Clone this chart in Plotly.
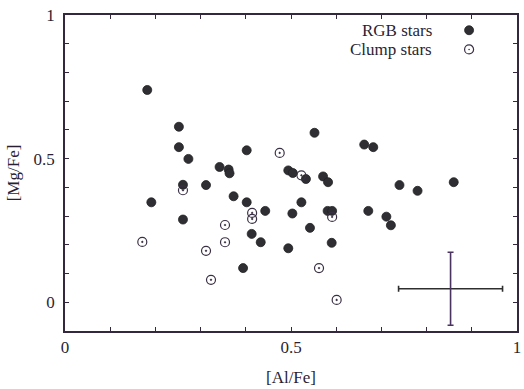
import plotly.graph_objects as go

# RGB stars ([Al/Fe], [Mg/Fe])
rgb_al = [0.182, 0.191, 0.252, 0.252, 0.273, 0.261, 0.261, 0.312, 0.342, 0.362,
          0.364, 0.373, 0.402, 0.402, 0.413, 0.433, 0.443, 0.394, 0.494, 0.494,
          0.504, 0.503, 0.523, 0.533, 0.542, 0.552, 0.571, 0.582, 0.581, 0.591,
          0.590, 0.662, 0.682, 0.671, 0.711, 0.721, 0.740, 0.780, 0.860]
rgb_mg = [0.739, 0.348, 0.611, 0.540, 0.499, 0.409, 0.288, 0.408, 0.471, 0.462,
          0.449, 0.369, 0.529, 0.348, 0.238, 0.209, 0.318, 0.119, 0.188, 0.459,
          0.450, 0.309, 0.348, 0.429, 0.259, 0.590, 0.438, 0.418, 0.318, 0.318,
          0.207, 0.549, 0.540, 0.318, 0.298, 0.268, 0.408, 0.388, 0.418]

# Clump stars
clump_al = [0.171, 0.261, 0.312, 0.323, 0.354, 0.354, 0.414, 0.414, 0.475, 0.523,
            0.562, 0.591, 0.601]
clump_mg = [0.210, 0.390, 0.179, 0.078, 0.269, 0.209, 0.311, 0.290, 0.520, 0.442,
            0.119, 0.297, 0.008]

# typical error bar
err_x = [0.853]
err_y = [0.047]
err_dx = [0.115]
err_dy = [0.127]

x_ticks = [round(0.1 * i, 1) for i in range(11)]
y_ticks = [round(0.1 * i, 1) for i in range(11)]
x_labels = {0.0: "0", 0.5: "0.5", 1.0: "1"}
y_labels = {0.0: "0", 0.5: "0.5", 1.0: "1"}

legend_names = ["RGB stars", "Clump stars"]

LINE = "#33283d"
TXT = "#2a1f33"
DOT = "#2f2f33"
FONT = "Liberation Serif"

fig = go.Figure()

fig.add_trace(go.Scatter(
    x=rgb_al, y=rgb_mg, mode="markers", name=legend_names[0],
    marker=dict(symbol="circle", size=9, color=DOT,
                line=dict(color="#222226", width=0.8)),
    showlegend=False))

fig.add_trace(go.Scatter(
    x=clump_al, y=clump_mg, mode="markers", name=legend_names[1],
    marker=dict(symbol="circle-open-dot", size=9, color="#3a3044",
                line=dict(width=1.2)),
    showlegend=False))

fig.add_trace(go.Scatter(
    x=err_x, y=err_y, mode="markers", marker=dict(size=0.1, opacity=0),
    error_x=dict(type="data", array=err_dx, color="#2e2e2e", thickness=1.6, width=3),
    showlegend=False, hoverinfo="skip"))
fig.add_trace(go.Scatter(
    x=err_x, y=err_y, mode="markers", marker=dict(size=0.1, opacity=0),
    error_y=dict(type="data", array=err_dy, color="#4a3360", thickness=1.6, width=3),
    showlegend=False, hoverinfo="skip"))

# legend (text left of symbol, as in the reference)
leg_y = [0.947, 0.880]
for i, name in enumerate(legend_names):
    fig.add_annotation(x=0.817, y=leg_y[i], xref="x", yref="y", text=name,
                       showarrow=False, xanchor="right", yanchor="middle",
                       font=dict(family=FONT, size=17, color=TXT))
fig.add_shape(type="circle", xref="x", yref="y", xsizemode="pixel", ysizemode="pixel",
              xanchor=0.894, yanchor=leg_y[0], x0=-4.5, x1=4.5, y0=-4.5, y1=4.5,
              fillcolor=DOT, line=dict(color="#222226", width=0.8))
fig.add_shape(type="circle", xref="x", yref="y", xsizemode="pixel", ysizemode="pixel",
              xanchor=0.894, yanchor=leg_y[1], x0=-4.5, x1=4.5, y0=-4.5, y1=4.5,
              fillcolor="white", line=dict(color="#3a3044", width=1.2))
fig.add_shape(type="circle", xref="x", yref="y", xsizemode="pixel", ysizemode="pixel",
              xanchor=0.894, yanchor=leg_y[1], x0=-0.8, x1=0.8, y0=-0.8, y1=0.8,
              fillcolor="#3a3044", line=dict(width=0))

axis_common = dict(
    showgrid=False, zeroline=False, showline=True, linecolor=LINE, linewidth=1.8,
    mirror="allticks", ticks="inside", ticklen=4, tickwidth=1.3, tickcolor=LINE,
    tickfont=dict(family=FONT, size=17, color=TXT),
)

fig.update_xaxes(range=[0, 1], tickvals=x_ticks,
                 ticktext=[x_labels.get(v, "") for v in x_ticks],
                 title=dict(text="[Al/Fe]", font=dict(family=FONT, size=17, color=TXT),
                            standoff=15),
                 **axis_common)
fig.update_yaxes(range=[-0.1, 1.0], tickvals=y_ticks,
                 ticktext=[y_labels.get(v, "") for v in y_ticks],
                 ticklabelstandoff=5,
                 title=dict(text="[Mg/Fe]", font=dict(family=FONT, size=17, color=TXT),
                            standoff=10),
                 **axis_common)

fig.update_layout(
    width=524, height=389,
    margin=dict(l=65, r=7, t=15, b=58, autoexpand=False),
    paper_bgcolor="white", plot_bgcolor="white",
    showlegend=False,
)

fig.write_html("out.html", config={"displayModeBar": False},
               post_script="document.body.style.margin='0';")
